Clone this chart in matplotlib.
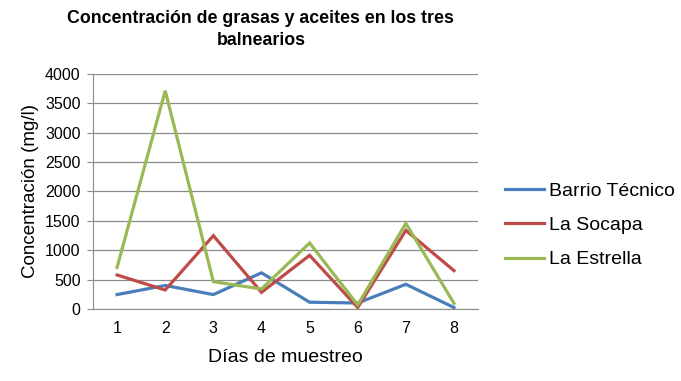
import numpy as np
import matplotlib.pyplot as plt

plt.rcParams['font.family'] = ['Liberation Sans', 'DejaVu Sans']

# Data
dias = [1, 2, 3, 4, 5, 6, 7, 8]
barrio_tecnico = [245, 400, 245, 615, 115, 102, 420, 25]
la_socapa = [578, 323, 1246, 283, 912, 25, 1337, 652]
la_estrella = [708, 3711, 465, 340, 1122, 68, 1456, 96]

series = [
    ("Barrio Técnico", barrio_tecnico, '#4A7EBB'),
    ("La Socapa", la_socapa, '#BE4B48'),
    ("La Estrella", la_estrella, '#98B954'),
]

fig = plt.figure(figsize=(6.81, 3.81), dpi=100)
ax = fig.add_axes([0.1366, 0.189, 0.5654, 0.6176])

for name, vals, col in series:
    ax.plot(dias, vals, color=col, lw=2.3, label=name, solid_joinstyle='miter')

ax.set_xlim(0.5, 8.5)
ax.set_ylim(0, 4000)
ax.set_yticks(np.arange(0, 4001, 500))
ax.set_xticks(dias)
ax.grid(axis='y', color='#8c8c8c', lw=0.9)
ax.set_axisbelow(True)
for s in ['top', 'right']:
    ax.spines[s].set_visible(False)
ax.spines['left'].set_color('#8c8c8c')
ax.spines['bottom'].set_color('#8c8c8c')
ax.tick_params(axis='y', length=4, color='#8c8c8c', labelsize=11.5, pad=5)
ax.tick_params(axis='x', length=0, labelsize=11.5, pad=9)

ax.set_xlabel("Días de muestreo", fontsize=14, labelpad=9)
ax.set_ylabel("Concentración (mg/l)", fontsize=13.5, labelpad=4)

fig.text(0.383, 0.975, "Concentración de grasas y aceites en los tres\nbalnearios",
         ha='center', va='top', fontsize=12.8, fontweight='bold', linespacing=1.45)

ax.legend(loc='center left', bbox_to_anchor=(1.025, 0.355), frameon=False,
          fontsize=14, handlelength=2.0, handletextpad=0.25, labelspacing=0.85)

fig.savefig("out.png", dpi=100)
